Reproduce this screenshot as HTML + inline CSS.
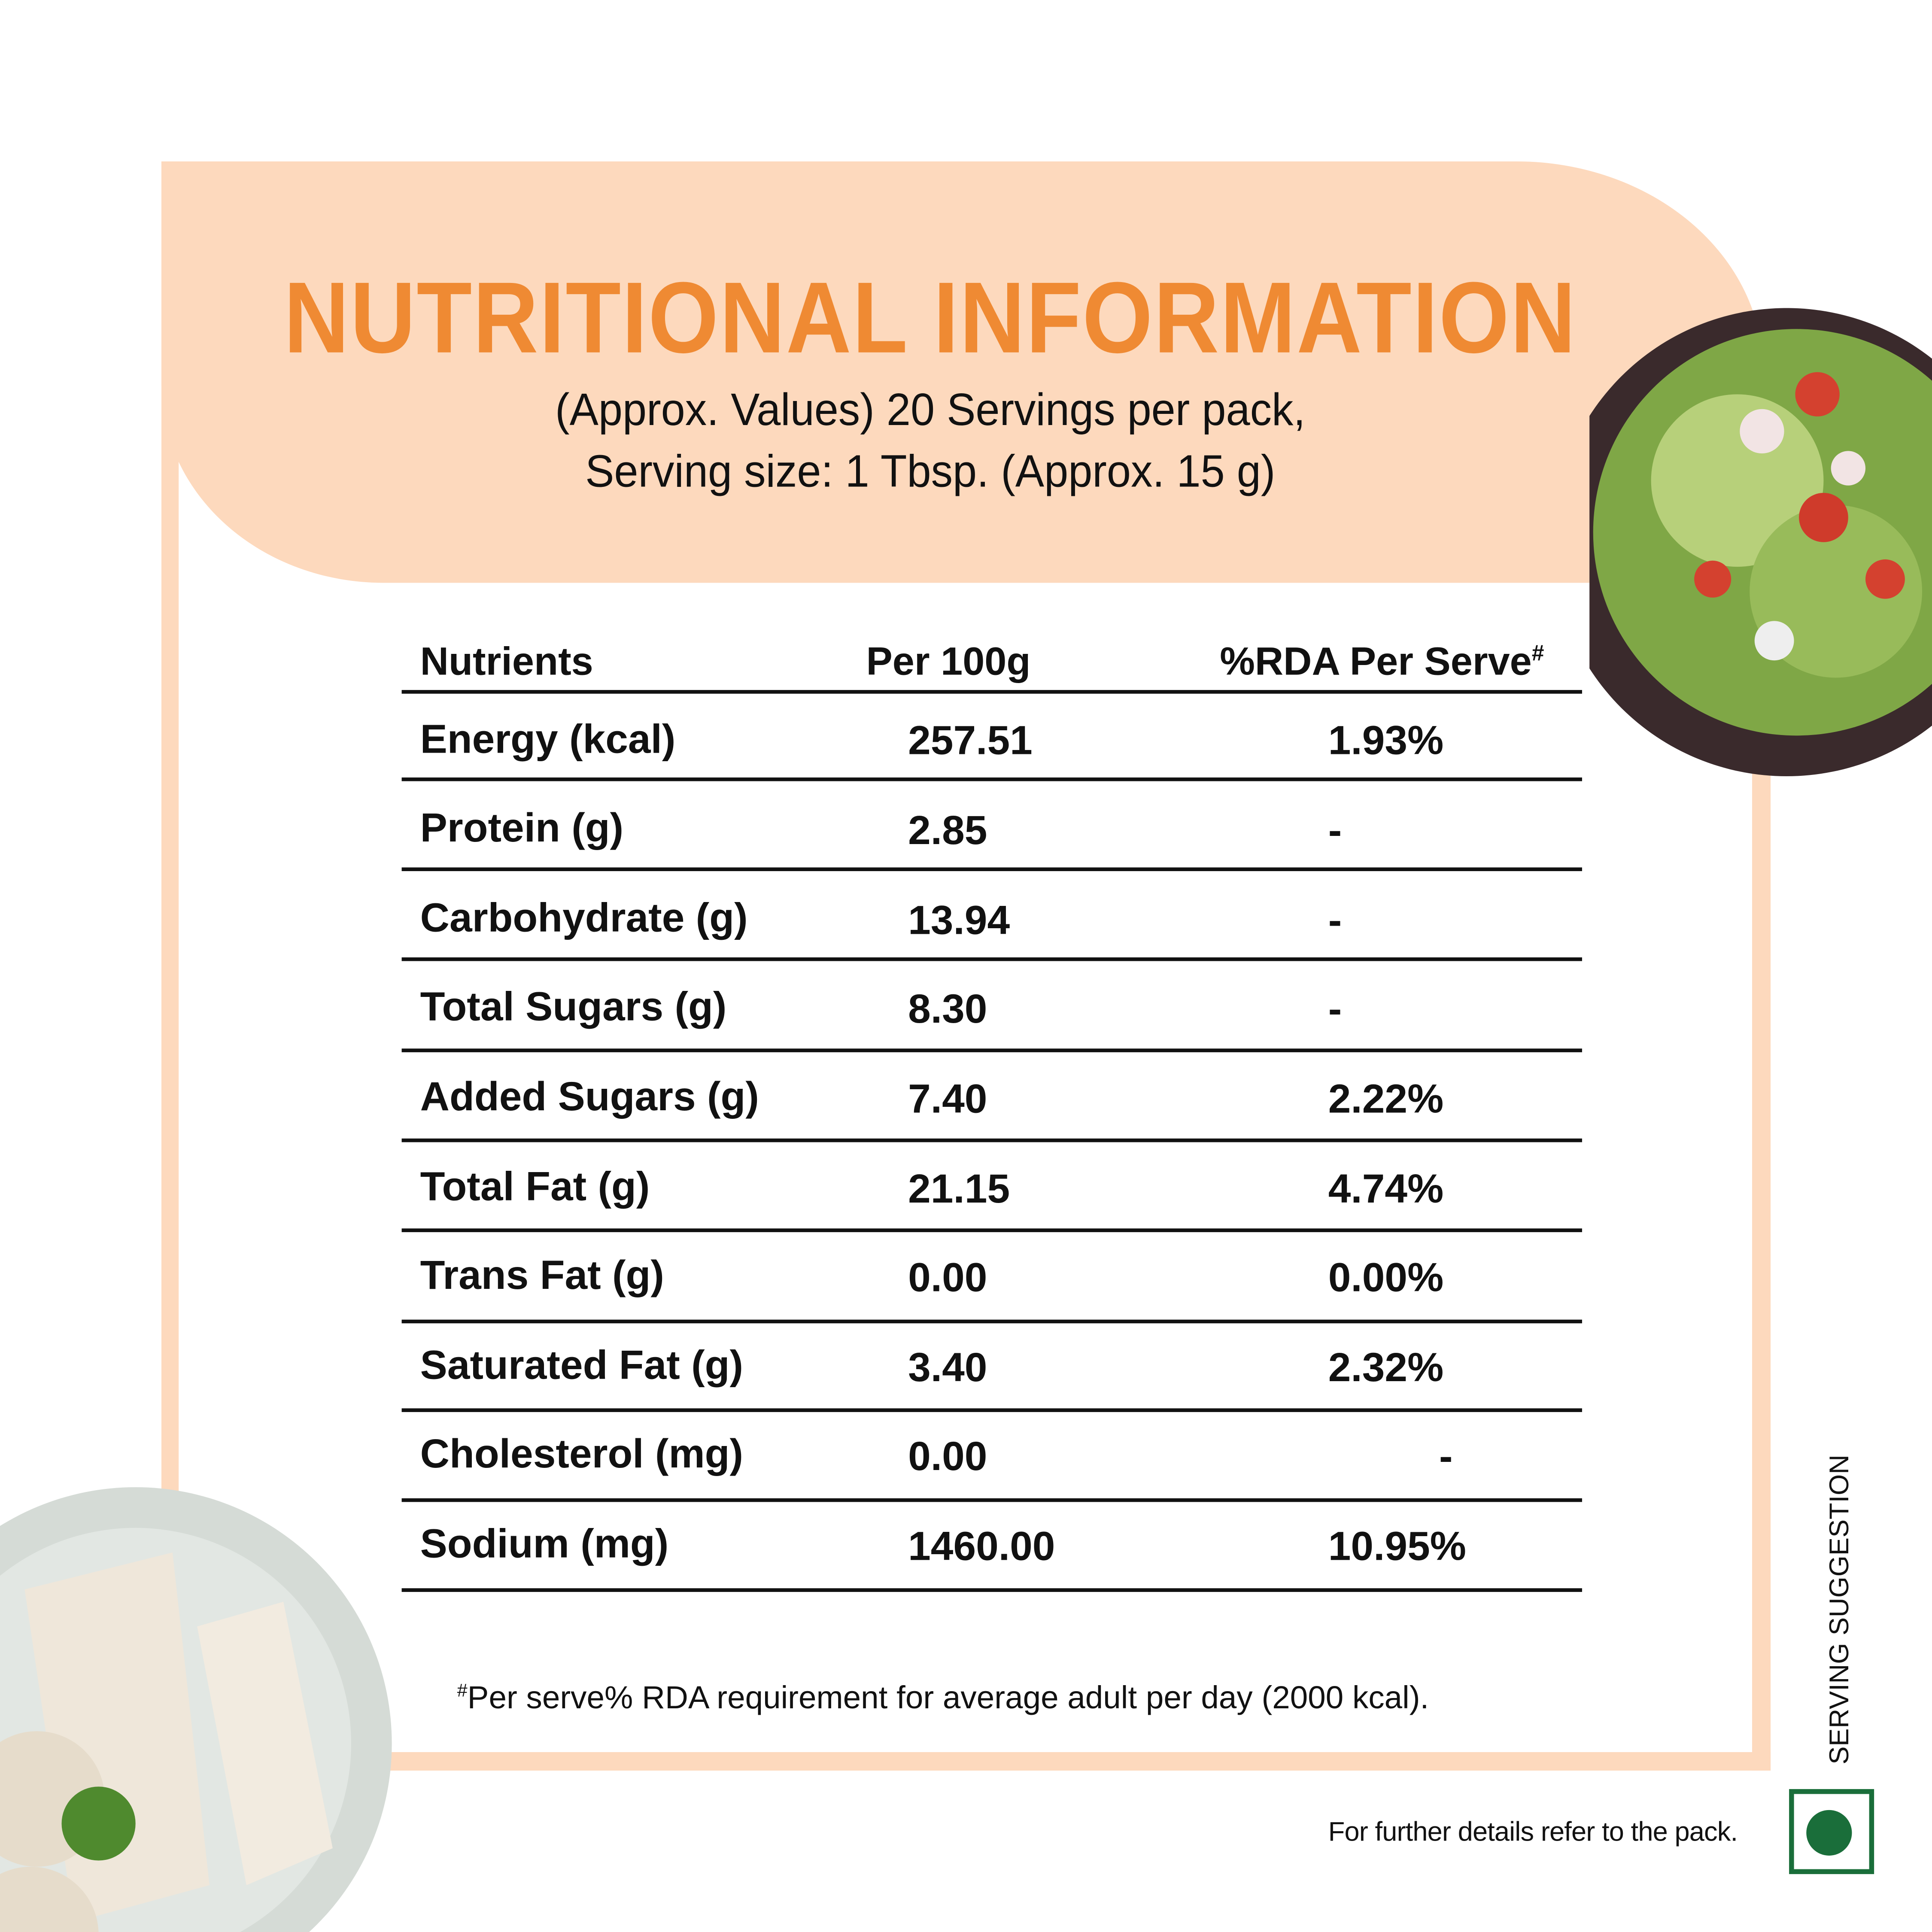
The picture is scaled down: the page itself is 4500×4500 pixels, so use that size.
<!DOCTYPE html>
<html><head><meta charset="utf-8"><style>
html,body{margin:0;padding:0;background:#fff;overflow:hidden;width:4500px;height:4500px}
#c{position:absolute;left:0;top:0;width:1568px;height:1568px;transform:scale(2.869898);transform-origin:0 0;font-family:"Liberation Sans","DejaVu Sans",sans-serif;color:#111;overflow:hidden}
.a{position:absolute;white-space:nowrap}
.line{position:absolute;left:326px;width:958px;height:3px;background:#111}
.r{position:absolute;font-size:33px;font-weight:bold;transform:translateY(-50%)}
</style></head><body><div id="c">
<!-- frame pieces -->
<div class="a" style="left:131px;top:131px;width:14px;height:1306px;background:#fdd9bd"></div>
<div class="a" style="left:131px;top:1422px;width:1306px;height:15px;background:#fdd9bd"></div>
<div class="a" style="left:1422px;top:300px;width:15px;height:1137px;background:#fdd9bd"></div>
<!-- header -->
<div class="a" style="left:131px;top:131px;width:1300px;height:342px;background:#fdd9bd;border-top-right-radius:200px 170px;border-bottom-left-radius:180px 160px"></div>
<div class="a" style="left:0;top:212px;width:1510px;text-align:center;font-size:82px;font-weight:bold;color:#ef8a33;transform:scaleX(0.895);transform-origin:755px 0;letter-spacing:1px">NUTRITIONAL INFORMATION</div>
<div class="a" style="left:0;top:308px;width:1510px;text-align:center;font-size:37px;line-height:50px;color:#111;transform:scaleX(0.95);transform-origin:755px 0">(Approx. Values) 20 Servings per pack,<br>Serving size: 1 Tbsp. (Approx. 15 g)</div>
<!-- salad -->
<svg class="a" style="left:1290px;top:250px" width="290" height="390">
<circle cx="160" cy="190" r="190" fill="#3a2a2c"/>
<circle cx="168" cy="182" r="165" fill="#7fa746"/>
<circle cx="120" cy="140" r="70" fill="#b7d07a"/><circle cx="200" cy="230" r="70" fill="#98bb5a"/>
<circle cx="185" cy="70" r="18" fill="#d4412f"/><circle cx="100" cy="220" r="15" fill="#d4412f"/><circle cx="190" cy="170" r="20" fill="#cf3b2b"/><circle cx="240" cy="220" r="16" fill="#d4412f"/>
<circle cx="140" cy="100" r="18" fill="#f2e4e4"/><circle cx="210" cy="130" r="14" fill="#f2e4e4"/><circle cx="150" cy="270" r="16" fill="#eee"/>
</svg>
<!-- wrap plate -->
<svg class="a" style="left:0;top:1200px" width="330" height="368">
<circle cx="110" cy="215" r="208" fill="#d5dbd6"/>
<circle cx="110" cy="215" r="175" fill="#e2e7e3"/>
<polygon points="20,90 140,60 170,330 60,360" fill="#efe7da"/>
<polygon points="160,120 230,100 270,300 200,330" fill="#f2ebe0"/>
<circle cx="30" cy="260" r="55" fill="#e6dccb"/><circle cx="25" cy="370" r="55" fill="#e6dccb"/>
<circle cx="80" cy="280" r="30" fill="#4f8a2e"/>
</svg>
<!-- table -->
<div class="a" style="left:341px;top:537px;font-size:32px;font-weight:bold;transform:translateY(-50%)">Nutrients</div>
<div class="a" style="left:703px;top:537px;font-size:32px;font-weight:bold;transform:translateY(-50%)">Per 100g</div>
<div class="a" style="left:990px;top:537px;font-size:32px;font-weight:bold;transform:translateY(-50%)">%RDA Per Serve<sup style="font-size:18px">#</sup></div>
<div class="line" style="top:560px"></div><div class="line" style="top:631px"></div><div class="line" style="top:704px"></div><div class="line" style="top:777px"></div><div class="line" style="top:851px"></div><div class="line" style="top:924px"></div><div class="line" style="top:997px"></div><div class="line" style="top:1071px"></div><div class="line" style="top:1143px"></div><div class="line" style="top:1216px"></div><div class="line" style="top:1289px"></div>
<div class="r a" style="left:341px;top:600px">Energy (kcal)</div><div class="r a" style="left:737px;top:601px">257.51</div><div class="r a" style="left:1078px;top:601px">1.93%</div>
<div class="r a" style="left:341px;top:672px">Protein (g)</div><div class="r a" style="left:737px;top:674px">2.85</div><div class="r a" style="left:1078px;top:674px">-</div>
<div class="r a" style="left:341px;top:745px">Carbohydrate (g)</div><div class="r a" style="left:737px;top:747px">13.94</div><div class="r a" style="left:1078px;top:747px">-</div>
<div class="r a" style="left:341px;top:817px">Total Sugars (g)</div><div class="r a" style="left:737px;top:819px">8.30</div><div class="r a" style="left:1078px;top:819px">-</div>
<div class="r a" style="left:341px;top:890px">Added Sugars (g)</div><div class="r a" style="left:737px;top:892px">7.40</div><div class="r a" style="left:1078px;top:892px">2.22%</div>
<div class="r a" style="left:341px;top:963px">Total Fat (g)</div><div class="r a" style="left:737px;top:965px">21.15</div><div class="r a" style="left:1078px;top:965px">4.74%</div>
<div class="r a" style="left:341px;top:1035px">Trans Fat (g)</div><div class="r a" style="left:737px;top:1037px">0.00</div><div class="r a" style="left:1078px;top:1037px">0.00%</div>
<div class="r a" style="left:341px;top:1108px">Saturated Fat (g)</div><div class="r a" style="left:737px;top:1110px">3.40</div><div class="r a" style="left:1078px;top:1110px">2.32%</div>
<div class="r a" style="left:341px;top:1180px">Cholesterol (mg)</div><div class="r a" style="left:737px;top:1182px">0.00</div><div class="r a" style="left:1168px;top:1182px">-</div>
<div class="r a" style="left:341px;top:1253px">Sodium (mg)</div><div class="r a" style="left:737px;top:1255px">1460.00</div><div class="r a" style="left:1078px;top:1255px">10.95%</div>
<div class="a" style="left:371px;top:1378px;font-size:26px;transform:translateY(-50%)"><sup style="font-size:15px">#</sup>Per serve% RDA requirement for average adult per day (2000 kcal).</div>
<div class="a" style="left:1078px;top:1487px;font-size:22px;transform:translateY(-50%);letter-spacing:-0.3px">For further details refer to the pack.</div>
<div class="a" style="left:1492px;top:1432px;font-size:22px;transform:rotate(-90deg);transform-origin:0 0;margin-left:-12px">SERVING SUGGESTION</div>
<div class="a" style="left:1452px;top:1452px;width:61px;height:61px;border:4px solid #1a6e3a;background:#fff"></div>
<div class="a" style="left:1466px;top:1469px;width:37px;height:37px;border-radius:50%;background:#1a6e3a"></div>
</div></body></html>
